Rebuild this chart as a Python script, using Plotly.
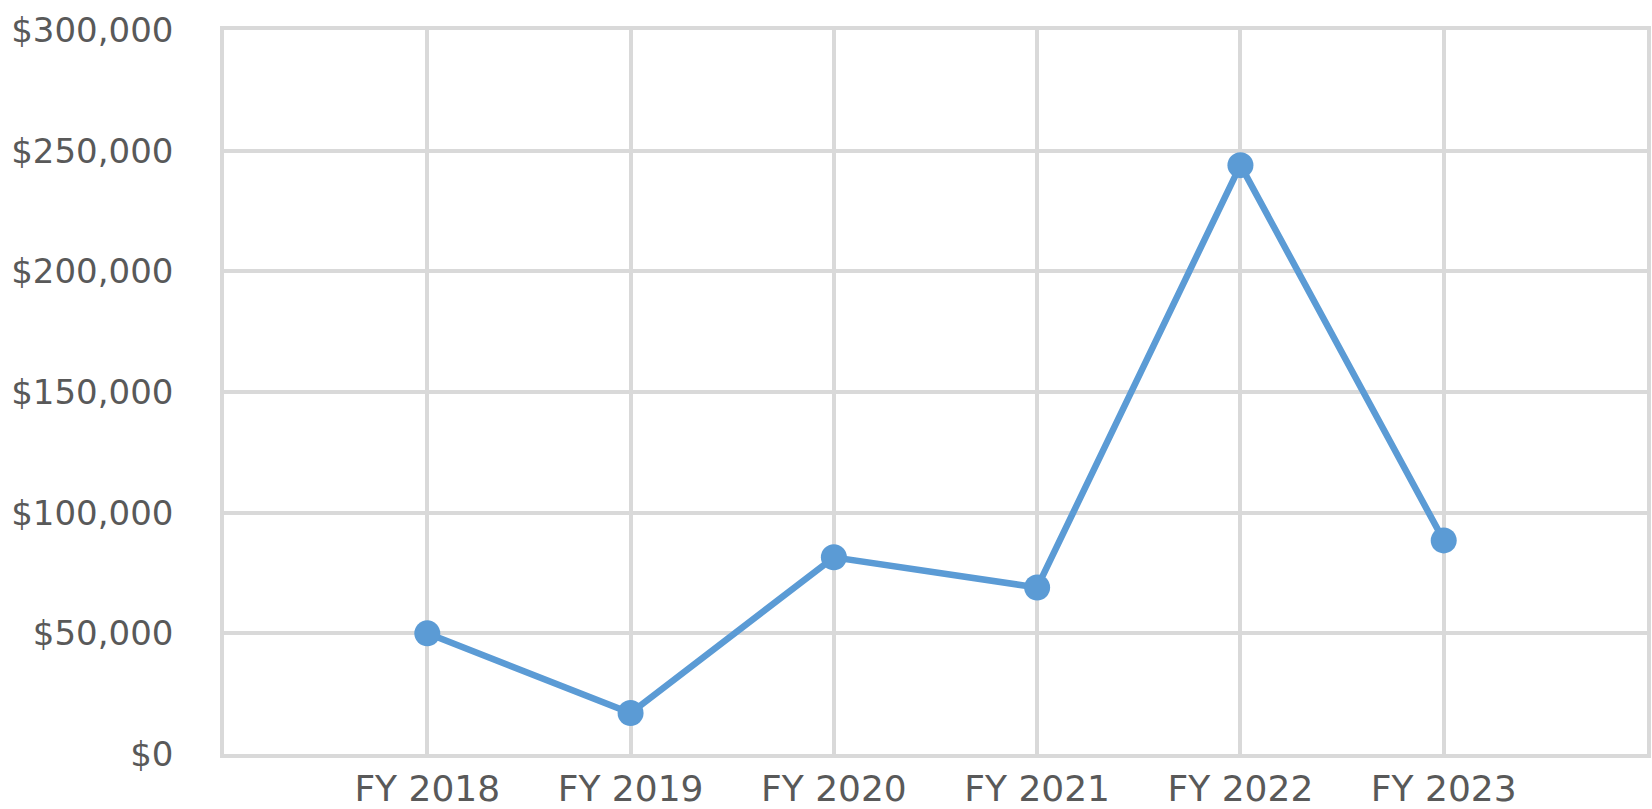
import plotly.graph_objects as go

categories = ["FY 2018", "FY 2019", "FY 2020", "FY 2021", "FY 2022", "FY 2023"]
values = [50000, 17000, 81500, 69000, 244000, 88500]
y_ticks = [0, 50000, 100000, 150000, 200000, 250000, 300000]
y_tick_labels = ["$0", "$50,000", "$100,000", "$150,000", "$200,000", "$250,000", "$300,000"]

x_pos = list(range(len(categories)))

grid = "#D9D9D9"
font_color = "#595959"
font_family = "'DejaVu Sans', sans-serif"

fig = go.Figure()
fig.add_trace(go.Scatter(
    x=x_pos, y=values, mode="lines+markers",
    line=dict(color="#5B9BD5", width=6.5),
    marker=dict(color="#5B9BD5", size=26),
    showlegend=False, cliponaxis=False,
))

fig.update_layout(
    width=1652, height=809,
    margin=dict(l=224, r=5, t=30, b=55, autoexpand=False),
    paper_bgcolor="white", plot_bgcolor="white",
    font=dict(family=font_family, size=34, color=font_color),
    xaxis=dict(
        range=[-1, len(categories)],
        tickmode="array", tickvals=x_pos, ticktext=categories,
        showgrid=True, gridcolor=grid, gridwidth=3.5,
        showline=True, linecolor=grid, linewidth=3.5, mirror=True,
        zeroline=False, ticks="", ticklabelstandoff=0,
        tickfont=dict(family=font_family, size=36, color=font_color),
        automargin=False,
    ),
    yaxis=dict(
        range=[0, 300000],
        tickmode="array", tickvals=y_ticks, ticktext=y_tick_labels,
        showgrid=True, gridcolor=grid, gridwidth=3.5,
        showline=True, linecolor=grid, linewidth=3.5, mirror=True,
        zeroline=False, ticks="", ticklabelstandoff=40,
        tickfont=dict(family=font_family, size=34, color=font_color),
        automargin=False,
    ),
)

fig.write_html(
    "out.html",
    config={"displayModeBar": False},
    post_script="document.body.style.margin='0';document.body.style.overflow='hidden';",
)
